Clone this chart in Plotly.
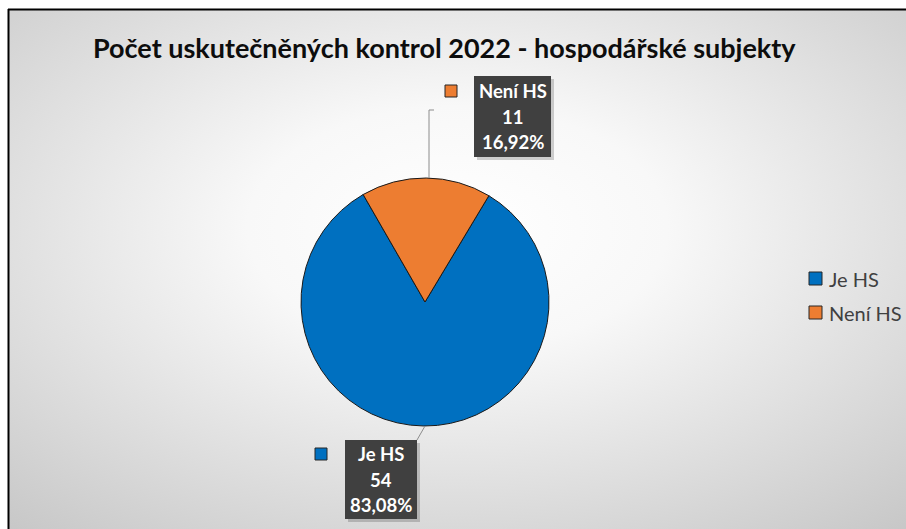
import base64
import plotly.graph_objects as go

# ---------------- data ----------------
labels = ["Je HS", "Není HS"]
values = [54, 11]
colors = ["#0070C0", "#ED7D31"]
title_text = "Počet uskutečněných kontrol 2022 - hospodářské subjekty"

W, H = 906, 529
FONT = "Lato"


def px(x):
    return x / W


def py(y):
    return 1 - y / H


total = sum(values)
pct_text = [f"{v / total * 100:.2f}".replace(".", ",") + "%" for v in values]

# pie geometry (pixels)
cx, cy, r = 425, 302, 124

fig = go.Figure(
    go.Pie(
        labels=labels,
        values=values,
        sort=False,
        direction="clockwise",
        rotation=31,
        marker=dict(colors=colors, line=dict(color="#1a1a1a", width=1)),
        textinfo="none",
        hoverinfo="label+value+percent",
        domain=dict(x=[px(cx - r), px(cx + r)], y=[py(cy + r), py(cy - r)]),
        showlegend=False,
    )
)

# ---------------- background (radial gradient + frame) ----------------
svg = (
    f'<svg xmlns="http://www.w3.org/2000/svg" width="{W}" height="{H}" '
    f'viewBox="0 0 {W} {H}" preserveAspectRatio="none">'
    '<defs><radialGradient id="g" cx="0.5" cy="0.42" r="0.78">'
    '<stop offset="0" stop-color="#ffffff"/>'
    '<stop offset="0.3" stop-color="#f8f8f8"/>'
    '<stop offset="1" stop-color="#c6c6c6"/>'
    '</radialGradient></defs>'
    f'<rect x="0" y="0" width="{W}" height="{H}" fill="#ffffff"/>'
    f'<rect x="9" y="10" width="{W - 9}" height="{H - 10}" fill="url(#g)"/>'
    f'<line x1="8" y1="9.5" x2="{W}" y2="9.5" stroke="#000" stroke-width="2"/>'
    f'<line x1="8.5" y1="9" x2="8.5" y2="{H}" stroke="#000" stroke-width="2"/>'
    '</svg>'
)
bg_src = "data:image/svg+xml;base64," + base64.b64encode(svg.encode("utf-8")).decode()

shapes = []
annotations = []


def rect(x0, y0, x1, y1, fill, line_color=None, line_width=0):
    shapes.append(
        dict(
            type="rect", xref="paper", yref="paper",
            x0=px(x0), x1=px(x1), y0=py(y1), y1=py(y0),
            fillcolor=fill,
            line=dict(color=line_color or fill, width=line_width),
            layer="above",
        )
    )


def seg(x0, y0, x1, y1, color="#8c8c8c", width=1):
    shapes.append(
        dict(
            type="line", xref="paper", yref="paper",
            x0=px(x0), x1=px(x1), y0=py(y0), y1=py(y1),
            line=dict(color=color, width=width),
            layer="above",
        )
    )


def text(x, y, s, size, color, bold=False, xanchor="center"):
    annotations.append(
        dict(
            x=px(x), y=py(y), xref="paper", yref="paper",
            text=f"<b>{s}</b>" if bold else s,
            showarrow=False, xanchor=xanchor, yanchor="middle",
            font=dict(family=FONT, size=size, color=color),
        )
    )


# title
text(444, 48, title_text, 27, "#0d0d0d", bold=True)

# data labels: box, colour square and leader line positions (pixels)
label_layout = [
    dict(box=(345, 440, 417, 519), sq=(315, 448),
         leader=[(425, 426, 417, 440)]),
    dict(box=(474, 76, 551, 157), sq=(445, 85),
         leader=[(434, 110, 429, 110), (429, 110, 429, 178)]),
]

for i, lay in enumerate(label_layout):
    for s in lay["leader"]:
        seg(*s)
    x0, y0, x1, y1 = lay["box"]
    rect(x0 + 3, y0 + 3, x1 + 3, y1 + 3, "rgba(0,0,0,0.18)")
    rect(x0, y0, x1, y1, "#404040")
    sx, sy = lay["sq"]
    rect(sx, sy, sx + 12, sy + 12, colors[i], "#262626", 1)
    xc = (x0 + x1) / 2
    yc = (y0 + y1) / 2
    lines = [labels[i], str(values[i]), pct_text[i]]
    for k, t in enumerate(lines):
        text(xc, yc + (k - 1) * 25.5, t, 18.5, "#ffffff", bold=True)

# custom legend
for i, lab in enumerate(labels):
    ly = 278.5 + i * 34
    rect(809, ly - 6.5, 822, ly + 6.5, colors[i], "#262626", 1)
    text(827, ly, lab, 20, "#404040", xanchor="left")

fig.update_layout(
    width=W,
    height=H,
    margin=dict(l=0, r=0, t=0, b=0),
    paper_bgcolor="#ffffff",
    plot_bgcolor="rgba(0,0,0,0)",
    showlegend=False,
    images=[
        dict(
            source=bg_src, xref="paper", yref="paper",
            x=0, y=1, sizex=1, sizey=1,
            xanchor="left", yanchor="top",
            sizing="stretch", layer="below",
        )
    ],
    shapes=shapes,
    annotations=annotations,
)

fig.write_html(
    "out.html",
    config={"displayModeBar": False},
    post_script="document.body.style.margin='0';document.body.style.overflow='hidden';",
)
